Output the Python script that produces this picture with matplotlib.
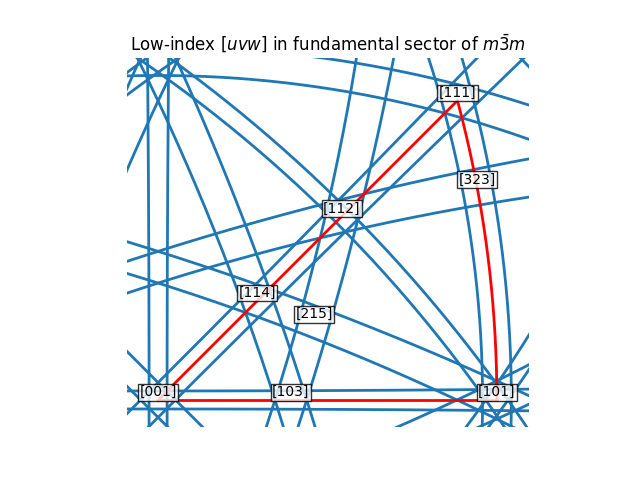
import itertools

import matplotlib
matplotlib.use("Agg")
import matplotlib.pyplot as plt
import numpy as np

# labelled directions inside the sector
labels = ["[001]", "[103]", "[114]", "[215]", "[112]", "[101]", "[323]", "[111]"]
uvw = [[0, 0, 1], [1, 0, 3], [1, 1, 4], [2, 1, 5], [1, 1, 2], [1, 0, 1], [3, 2, 3], [1, 1, 1]]

# plane-normal families of the blue circles, and cos of the offset angle of each pair
circle_families = [[1, 0, 0], [1, 1, 0], [1, 1, 1], [3, 1, 1]]
circle_offset = [0.022, 0.030, 0.019, 0.036]

# corners of the fundamental sector of m-3m
sector = [[0, 0, 1], [1, 0, 1], [1, 1, 1]]


def stereo(v):
    v = np.asarray(v, dtype=float)
    v = v / np.linalg.norm(v, axis=-1, keepdims=True)
    x, y, z = v[..., 0], v[..., 1], v[..., 2]
    X = x / (1 + z)
    Y = y / (1 + z)
    X = np.where(z < 0, np.nan, X)
    Y = np.where(z < 0, np.nan, Y)
    return X, Y


def symmetrise(fam):
    out = []
    for p in set(itertools.permutations(fam)):
        for s in itertools.product([1, -1], repeat=3):
            v = tuple(a * b for a, b in zip(p, s))
            nz = [c for c in v if c != 0]
            if nz[0] < 0:
                continue
            if v not in out:
                out.append(v)
    return out


def small_circle(n, k, steps=3000):
    n = np.asarray(n, dtype=float)
    n = n / np.linalg.norm(n)
    e1 = np.cross(n, [0.3, 0.5, 0.8])
    e1 /= np.linalg.norm(e1)
    e2 = np.cross(n, e1)
    t = np.linspace(0, 2 * np.pi, steps)
    r = np.sqrt(1 - k ** 2)
    v = k * n + r * (np.cos(t)[:, None] * e1 + np.sin(t)[:, None] * e2)
    return stereo(v)


def arc(a, b, steps=200):
    a = np.asarray(a, float) / np.linalg.norm(a)
    b = np.asarray(b, float) / np.linalg.norm(b)
    s = np.linspace(0, 1, steps)[:, None]
    return stereo((1 - s) * a + s * b)


fig, ax = plt.subplots(figsize=(6.4, 4.8), dpi=100)

for fam, k in zip(circle_families, circle_offset):
    for n in symmetrise(fam):
        for sign in (1, -1):
            X, Y = small_circle(n, sign * k)
            ax.plot(X, Y, color="C0", lw=2)

for i in range(3):
    X, Y = arc(sector[i], sector[(i + 1) % 3])
    ax.plot(X, Y, color="r", lw=2, zorder=3)

for lab, v in zip(labels, uvw):
    X, Y = stereo(v)
    ax.annotate(lab, (X, Y), xytext=(0, 5.5), textcoords="offset points",
                ha="center", va="center", fontsize=10, zorder=5,
                bbox=dict(boxstyle="square,pad=0.1", facecolor="w",
                          edgecolor="k", alpha=0.8))

ax.set_xlim(-0.0385, 0.454)
ax.set_ylim(-0.0333, 0.4186)
ax.set_aspect("equal")
ax.axis("off")
ax.set_title(r"Low-index $[uvw]$ in fundamental sector of $m\bar{3}m$")

plt.savefig("out.png")
